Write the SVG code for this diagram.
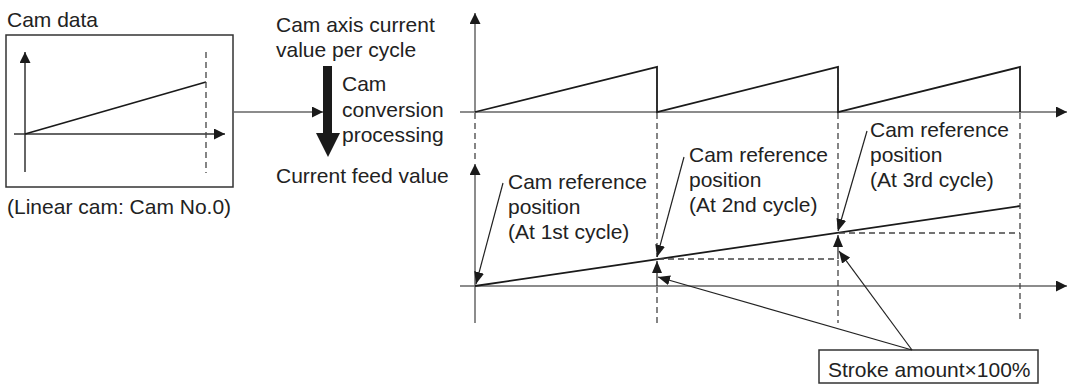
<svg xmlns="http://www.w3.org/2000/svg" width="1069" height="385" viewBox="0 0 1069 385">
<style>
text{font-family:"Liberation Sans",Arial,sans-serif;font-size:21px;fill:#222}
.ax{stroke:#666;stroke-width:1.5;fill:none}
.cv{stroke:#1a1a1a;stroke-width:1.8;fill:none}
.ds{stroke:#444;stroke-width:1.3;stroke-dasharray:6 4;fill:none}
.ld{stroke:#222;stroke-width:1.2;fill:none}
.bx{stroke:#333;stroke-width:1.5;fill:#fff}
</style>
<defs>
<marker id="ah" markerUnits="userSpaceOnUse" markerWidth="12" markerHeight="12" refX="11" refY="5.5" orient="auto"><path d="M0,0 L11,5.5 L0,11 z" fill="#1a1a1a"/></marker>
<marker id="la" markerUnits="userSpaceOnUse" markerWidth="13" markerHeight="11" refX="12" refY="5" orient="auto"><path d="M0,0 L12,5 L0,10 z" fill="#1a1a1a"/></marker>
</defs>

<g id="camdata">
<text x="7" y="27">Cam data</text>
<rect class="bx" x="6" y="35" width="227" height="152"/>
<line class="ax" x1="25" y1="172" x2="25" y2="52" marker-end="url(#ah)" style="stroke:#333"/>
<line class="ax" x1="14" y1="134" x2="225" y2="134" marker-end="url(#ah)" style="stroke:#333"/>
<line class="cv" x1="25" y1="134" x2="206" y2="82"/>
<line class="ds" x1="206" y1="52" x2="206" y2="173"/>
<text x="7" y="214">(Linear cam: Cam No.0)</text>
</g>

<g id="conversion">
<text x="276" y="32">Cam axis current</text>
<text x="276" y="57">value per cycle</text>
<polygon points="323,66 332,66 332,133 340,133 328,157 316,133 323,133" fill="#1a1a1a"/>
<text x="342" y="91">Cam</text>
<text x="342" y="117">conversion</text>
<text x="342" y="142">processing</text>
<text x="276" y="183">Current feed value</text>
</g>

<g id="topchart">
<line class="ax" x1="475" y1="112" x2="475" y2="13" marker-end="url(#ah)"/>
<line class="ax" x1="460" y1="112" x2="1067" y2="112" marker-end="url(#ah)"/>
<polyline class="cv" points="475,112 657,67 657,112 838,67 838,112 1020,67 1020,112"/>
</g>

<g id="bottomchart">
<line class="ax" x1="475" y1="323" x2="475" y2="164" marker-end="url(#ah)"/>
<line class="ax" x1="460" y1="286" x2="1067" y2="286" marker-end="url(#ah)"/>
<line class="cv" x1="475" y1="286" x2="1020" y2="206"/>
<text x="508" y="189">Cam reference</text>
<text x="508" y="214">position</text>
<text x="508" y="239">(At 1st cycle)</text>
<text x="689" y="162">Cam reference</text>
<text x="689" y="187">position</text>
<text x="689" y="212">(At 2nd cycle)</text>
<text x="870" y="137">Cam reference</text>
<text x="870" y="162">position</text>
<text x="870" y="187">(At 3rd cycle)</text>
</g>

<g id="stroke">
<rect class="bx" x="819" y="350" width="219" height="33"/>
<text x="828" y="377">Stroke amount×100%</text>
</g>

<g id="connectors">
<line x1="233" y1="112" x2="323" y2="112" class="ax" marker-end="url(#ah)"/>
<line class="ds" x1="475" y1="113" x2="475" y2="163"/>
<line class="ds" x1="657" y1="113" x2="657" y2="257"/>
<line class="ds" x1="657" y1="287" x2="657" y2="323"/>
<line class="ds" x1="838" y1="113" x2="838" y2="231"/>
<line class="ds" x1="838" y1="260" x2="838" y2="323"/>
<line class="ds" x1="1020" y1="113" x2="1020" y2="323"/>
<line class="ds" x1="658" y1="259" x2="838" y2="259"/>
<line class="ds" x1="839" y1="233" x2="1020" y2="233"/>
<line class="ld" x1="503" y1="183" x2="476" y2="284" marker-end="url(#la)"/>
<line class="ld" x1="684" y1="157" x2="657" y2="257" marker-end="url(#la)"/>
<line class="ld" x1="867" y1="131" x2="838" y2="231" marker-end="url(#la)"/>
<line class="ld" x1="657" y1="286" x2="657" y2="261" marker-end="url(#la)"/>
<line class="ld" x1="838" y1="259" x2="838" y2="235" marker-end="url(#la)"/>
<line class="ld" x1="912" y1="350" x2="658" y2="277" marker-end="url(#la)"/>
<line class="ld" x1="912" y1="350" x2="839" y2="251" marker-end="url(#la)"/>
</g>
</svg>
